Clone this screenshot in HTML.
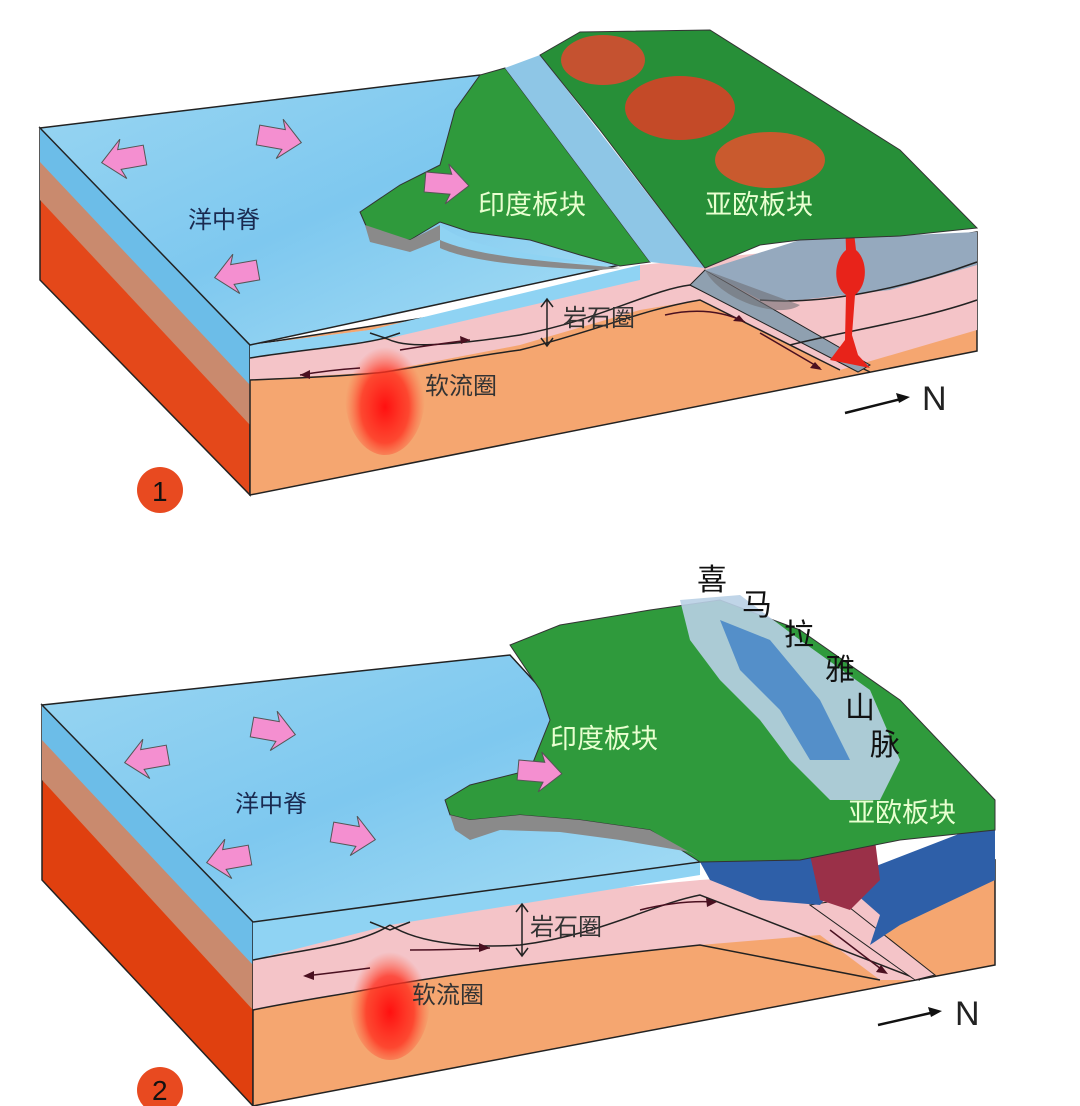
<!DOCTYPE html>
<html><head><meta charset="utf-8"><style>
html,body{margin:0;padding:0;background:#fff}
svg{display:block}
text{font-family:"Liberation Sans","Noto Sans CJK SC",sans-serif}
</style></head><body>
<svg width="1080" height="1106" viewBox="0 0 1080 1106" xmlns="http://www.w3.org/2000/svg">
<defs>
<radialGradient id="plume" cx="0.5" cy="0.6" r="0.5">
<stop offset="0" stop-color="#ff1010"/><stop offset="0.6" stop-color="#ff3020" stop-opacity="0.8"/><stop offset="1" stop-color="#ff6040" stop-opacity="0"/>
</radialGradient>
<linearGradient id="sea" x1="0" y1="0" x2="1" y2="1">
<stop offset="0" stop-color="#9ad6f2"/><stop offset="0.5" stop-color="#7ec8ef"/><stop offset="1" stop-color="#a8def5"/>
</linearGradient>
<g id="parrow"><path d="M0,-10 L26,-10 L22,-20 L44,0 L22,20 L26,10 L0,10 Z" fill="#f48fd0" stroke="#555" stroke-width="1"/></g>
</defs>

<!-- ===== DIAGRAM 1 ===== -->
<polygon points="40,128 250,345 250,495 40,280" fill="#e4481a" stroke="#222" stroke-width="1.5"/>
<polygon points="40,128 250,345 250,425 40,200" fill="#c98a6e"/>
<polygon points="40,128 250,345 250,385 40,162" fill="#6cbde8"/>
<polygon points="250,345 977,232 977,351 250,495" fill="#f5a670" stroke="#222" stroke-width="1.5"/>
<path d="M250,345 L370,330 L385,340 L640,265 L977,232 L977,330 L840,370 L700,300 L640,310 L520,345 L380,372 L250,380 Z" fill="#f4c4c8"/>
<path d="M250,345 L370,330 L640,265 L640,280 L390,338 L250,358 Z" fill="#8fd3f3"/>
<path d="M250,358 C300,350 360,345 385,338 C400,345 420,350 520,335" fill="none" stroke="#222" stroke-width="1.5"/>
<path d="M250,380 C300,378 360,375 385,372 C430,365 480,355 520,350 C600,330 640,310 700,300 L840,370" fill="none" stroke="#222" stroke-width="1.5"/>
<path d="M520,335 C600,320 650,290 690,285 L870,372" fill="none" stroke="#222" stroke-width="1.5"/>
<polygon points="690,285 705,270 870,365 858,372" fill="#8fa0b0" stroke="#222" stroke-width="1"/>
<path d="M705,270 L800,240 L977,232 L977,265 L890,290 L800,300 L760,300 Z" fill="#95a9be"/>
<path d="M760,300 C820,305 900,290 977,262" fill="none" stroke="#222" stroke-width="1.5"/>
<path d="M790,345 C850,330 920,320 977,300" fill="none" stroke="#222" stroke-width="1.5"/>
<path d="M705,270 C720,300 780,320 800,305" fill="#6f6f74" opacity="0.6"/>
<path d="M845,215 L852,215 L856,250 C868,260 868,285 855,295 L852,335 L858,355 L870,368 L830,360 L845,340 L846,295 C832,285 834,260 846,250 Z" fill="#e8231a"/>
<ellipse cx="385" cy="395" rx="40" ry="60" fill="url(#plume)"/>
<path d="M370,333 L385,338 L400,333" fill="none" stroke="#222" stroke-width="1.5"/>
<path d="M400,350 Q430,345 470,340" fill="none" stroke="#4a1020" stroke-width="1.5"/>
<path d="M470,340 l-10,-4 l1,8z" fill="#4a1020"/>
<path d="M360,368 Q330,370 300,375" fill="none" stroke="#4a1020" stroke-width="1.5"/>
<path d="M300,375 l10,-5 l0,9z" fill="#4a1020"/>
<path d="M665,315 Q710,305 745,322" fill="none" stroke="#4a1020" stroke-width="1.5"/>
<path d="M745,322 l-12,-1 l6,-6z" fill="#4a1020"/>
<path d="M760,333 L820,368" fill="none" stroke="#4a1020" stroke-width="1.5"/>
<path d="M822,370 l-12,-2 l5,-6z" fill="#4a1020"/>
<polygon points="40,128 480,75 620,265 250,345" fill="url(#sea)" stroke="#222" stroke-width="1.5"/>
<!-- Indian land -->
<path d="M360,212 L400,185 L440,165 L455,110 L480,75 L505,68 L650,262 L620,266 L580,255 L530,240 L470,232 L440,222 L410,240 L370,235 Z" fill="#2f9a3c" stroke="#333" stroke-width="1"/>
<path d="M440,225 C470,250 540,255 620,266 L600,262 C540,262 470,258 440,240 Z" fill="#8fd3f3"/>
<path d="M365,225 L410,240 L440,225 L440,240 L410,252 L370,242 Z" fill="#8a8a8a"/>
<path d="M440,240 C480,258 560,262 620,268 L600,270 C540,268 470,262 440,248 Z" fill="#8a8a8a"/>
<polygon points="505,68 540,55 705,268 650,262" fill="#8ec6e6"/>
<path d="M540,55 L580,32 L710,30 L900,150 L977,228 L900,236 L800,240 L760,245 L705,268 L600,130 Z" fill="#278f38" stroke="#333" stroke-width="1"/>
<ellipse cx="603" cy="60" rx="42" ry="25" fill="#c55230"/>
<ellipse cx="680" cy="108" rx="55" ry="32" fill="#c44a28"/>
<ellipse cx="770" cy="160" rx="55" ry="28" fill="#c95a2e"/>
<use href="#parrow" transform="translate(145,155) rotate(170)"/>
<use href="#parrow" transform="translate(258,135) rotate(10)"/>
<use href="#parrow" transform="translate(258,270) rotate(170)"/>
<use href="#parrow" transform="translate(425,182) rotate(5)"/>
<text x="188" y="228" font-size="24" fill="#1a2a50">洋中脊</text>
<text x="478" y="214" font-size="27" fill="#e8ffd0">印度板块</text>
<text x="705" y="214" font-size="27" fill="#e8ffd0">亚欧板块</text>
<text x="563" y="326" font-size="24" fill="#333">岩石圈</text>
<text x="425" y="394" font-size="24" fill="#333">软流圈</text>
<path d="M547,300 L547,345 M541,307 l6,-8 l6,8 M541,338 l6,8 l6,-8" stroke="#222" stroke-width="1.5" fill="none"/>
<path d="M845,413 L905,398" stroke="#111" stroke-width="2.5"/>
<path d="M910,397 l-14,-4 l3,10z" fill="#111"/>
<text x="922" y="410" font-size="34" fill="#222">N</text>
<circle cx="160" cy="490" r="23" fill="#e84a20"/>
<text x="152" y="501" font-size="28" fill="#111">1</text>

<!-- ===== DIAGRAM 2 ===== -->
<polygon points="42,705 253,922 253,1106 42,880" fill="#e0400f" stroke="#222" stroke-width="1.5"/>
<polygon points="42,705 253,922 253,1010 42,780" fill="#c98a6e"/>
<polygon points="42,705 253,922 253,965 42,740" fill="#6cbde8"/>
<polygon points="253,922 995,860 995,965 253,1106" fill="#f5a670" stroke="#222" stroke-width="1.5"/>
<path d="M253,922 L700,880 L995,860 L995,880 L880,930 L920,980 L880,980 L820,935 L700,945 L520,965 L390,985 L253,1010 Z" fill="#f4c4c8"/>
<path d="M253,922 L700,862 L700,875 L390,925 L253,960 Z" fill="#8fd3f3"/>
<path d="M253,960 C300,950 360,945 390,925" fill="none" stroke="#222" stroke-width="1.5"/>
<path d="M390,925 C420,945 480,948 520,945 C600,935 650,905 700,895 L920,980" fill="none" stroke="#222" stroke-width="1.5"/>
<path d="M253,1010 C300,1000 360,992 390,985 C480,970 560,960 700,945 L880,980" fill="none" stroke="#222" stroke-width="1.5"/>
<polygon points="810,905 840,900 935,975 915,980" fill="#f4c4c8" stroke="#222" stroke-width="1"/>
<path d="M700,862 L800,850 L840,880 L820,905 L760,900 L710,880 Z" fill="#2e5fa8"/>
<path d="M840,880 L995,820 L995,880 L900,925 L870,945 L880,915 Z" fill="#2e5fa8"/>
<path d="M800,810 L870,800 L880,880 L850,910 L820,900 Z" fill="#9a3048"/>
<ellipse cx="390" cy="1000" rx="40" ry="60" fill="url(#plume)"/>
<path d="M370,922 L390,930 L410,922" fill="none" stroke="#222" stroke-width="1.5"/>
<path d="M410,950 Q450,950 490,948" fill="none" stroke="#4a1020" stroke-width="1.5"/>
<path d="M490,948 l-11,-5 l0,9z" fill="#4a1020"/>
<path d="M370,968 Q340,972 305,976" fill="none" stroke="#4a1020" stroke-width="1.5"/>
<path d="M303,976 l11,-5 l0,9z" fill="#4a1020"/>
<path d="M640,910 Q680,900 715,902" fill="none" stroke="#4a1020" stroke-width="1.5"/>
<path d="M717,902 l-11,-4 l1,9z" fill="#4a1020"/>
<path d="M830,930 L885,972" fill="none" stroke="#4a1020" stroke-width="1.5"/>
<path d="M888,974 l-12,-2 l5,-7z" fill="#4a1020"/>
<polygon points="42,705 510,655 700,862 253,922" fill="url(#sea)" stroke="#222" stroke-width="1.5"/>
<path d="M445,800 L470,785 L530,770 L550,720 L540,690 L510,645 L560,625 L650,610 L720,600 L800,630 L900,700 L995,800 L995,830 L900,840 L800,860 L700,862 L650,830 L580,820 L520,815 L470,820 L450,815 Z" fill="#2f9a3c" stroke="#333" stroke-width="1"/>
<path d="M450,815 L470,820 L520,815 L580,820 L650,830 L700,858 L690,852 L620,840 L560,832 L500,830 L470,840 L455,830 Z" fill="#8a8a8a"/>
<path d="M680,600 L740,595 L800,640 L870,690 L900,760 L880,800 L830,800 L790,760 L760,720 L720,680 L690,640 Z" fill="#b9d0e6" opacity="0.9"/>
<path d="M720,620 L770,640 L820,700 L850,760 L810,760 L780,710 L740,670 Z" fill="#3f7fc5" opacity="0.8"/>
<use href="#parrow" transform="translate(168,755) rotate(170)"/>
<use href="#parrow" transform="translate(252,727) rotate(10)"/>
<use href="#parrow" transform="translate(250,855) rotate(170)"/>
<use href="#parrow" transform="translate(332,832) rotate(10)"/>
<use href="#parrow" transform="translate(518,770) rotate(5)"/>
<text x="235" y="812" font-size="24" fill="#1a2a50">洋中脊</text>
<text x="550" y="748" font-size="27" fill="#e8ffd0">印度板块</text>
<text x="848" y="822" font-size="27" fill="#e8ffd0">亚欧板块</text>
<text x="530" y="935" font-size="24" fill="#333">岩石圈</text>
<text x="412" y="1003" font-size="24" fill="#333">软流圈</text>
<path d="M522,905 L522,955 M516,912 l6,-8 l6,8 M516,948 l6,8 l6,-8" stroke="#222" stroke-width="1.5" fill="none"/>
<text x="697" y="590" font-size="30" fill="#111">喜</text>
<text x="742" y="615" font-size="30" fill="#111">马</text>
<text x="784" y="645" font-size="30" fill="#111">拉</text>
<text x="825" y="680" font-size="30" fill="#111">雅</text>
<text x="845" y="718" font-size="30" fill="#111">山</text>
<text x="870" y="755" font-size="30" fill="#111">脉</text>
<path d="M878,1025 L935,1012" stroke="#111" stroke-width="2.5"/>
<path d="M942,1011 l-14,-4 l3,10z" fill="#111"/>
<text x="955" y="1025" font-size="34" fill="#222">N</text>
<circle cx="160" cy="1090" r="23" fill="#e84a20"/>
<text x="152" y="1100" font-size="28" fill="#111">2</text>
</svg>
</body></html>
